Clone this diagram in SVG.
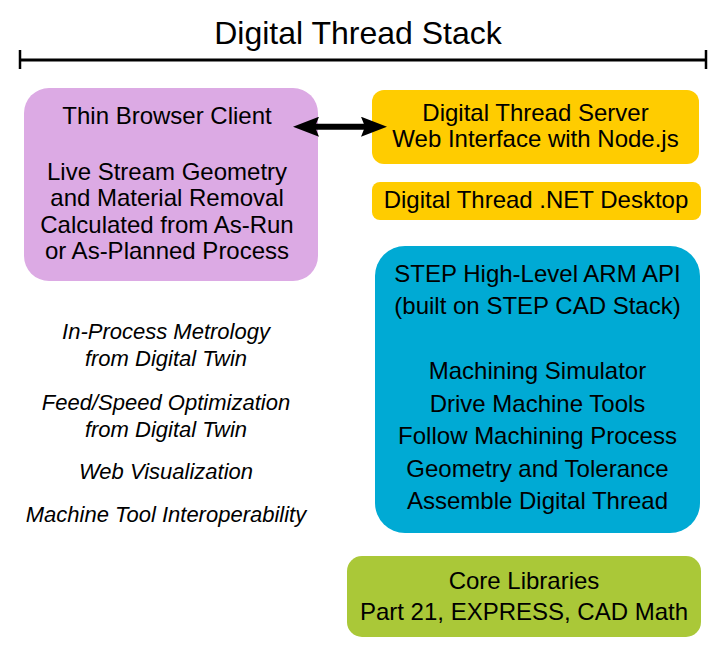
<svg xmlns="http://www.w3.org/2000/svg" width="721" height="658" viewBox="0 0 721 658">
<style>
text{font-family:"Liberation Sans",Arial,sans-serif;fill:#000;text-anchor:middle}
.t{font-size:24px}
.i{font-size:22px;font-style:italic}
.title{font-size:32px}
.purple{fill:#DCAAE4}
.orange{fill:#FFCC00}
.blue{fill:#00AAD4}
.green{fill:#AAC838}
</style>
<defs>
<marker id="ah" markerUnits="userSpaceOnUse" markerWidth="26" markerHeight="20" viewBox="0 0 26 20" refX="14" refY="10" orient="auto-start-reverse">
<path d="M0,0 L26,10 L0,20 L4,10 z" fill="#000"/>
</marker>
</defs>
<rect width="721" height="658" fill="#fff"/>
<g id="header">
<text class="title" x="358" y="44">Digital Thread Stack</text>
<line x1="20" y1="60" x2="706" y2="60" stroke="#000" stroke-width="3"/>
<line x1="20" y1="50" x2="20" y2="69" stroke="#000" stroke-width="2.5"/>
<line x1="706" y1="50" x2="706" y2="69" stroke="#000" stroke-width="2.5"/>
</g>
<g id="thin-client">
<rect class="purple" x="24" y="88" width="294" height="193" rx="25"/>
<text class="t" x="167" y="124">Thin Browser Client</text>
<text class="t" x="167" y="179.5">Live Stream Geometry</text>
<text class="t" x="167" y="206">and Material Removal</text>
<text class="t" x="167" y="232.5">Calculated from As-Run</text>
<text class="t" x="167" y="259">or As-Planned Process</text>
</g>
<g id="server">
<rect class="orange" x="372" y="90" width="327" height="74" rx="12"/>
<text class="t" x="535.5" y="121">Digital Thread Server</text>
<text class="t" x="535.5" y="146.5">Web Interface with Node.js</text>
</g>
<g id="desktop">
<rect class="orange" x="372" y="182" width="329" height="38" rx="8"/>
<text class="t" x="536" y="208">Digital Thread .NET Desktop</text>
</g>
<g id="step-api">
<rect class="blue" x="375" y="246" width="325" height="287" rx="30"/>
<text class="t" x="537.5" y="281.5">STEP High-Level ARM API</text>
<text class="t" x="537.5" y="314">(built on STEP CAD Stack)</text>
<text class="t" x="537.5" y="379">Machining Simulator</text>
<text class="t" x="537.5" y="411.5">Drive Machine Tools</text>
<text class="t" x="537.5" y="444">Follow Machining Process</text>
<text class="t" x="537.5" y="476.5">Geometry and Tolerance</text>
<text class="t" x="537.5" y="509">Assemble Digital Thread</text>
</g>
<g id="core">
<rect class="green" x="347" y="556" width="354" height="81" rx="15"/>
<text class="t" x="524" y="588.5">Core Libraries</text>
<text class="t" x="524" y="620">Part 21, EXPRESS, CAD Math</text>
</g>
<g id="applications">
<text class="i" x="166" y="339">In-Process Metrology</text>
<text class="i" x="166" y="366">from Digital Twin</text>
<text class="i" x="166" y="410">Feed/Speed Optimization</text>
<text class="i" x="166" y="437">from Digital Twin</text>
<text class="i" x="166" y="479">Web Visualization</text>
<text class="i" x="166" y="522">Machine Tool Interoperability</text>
</g>
<g id="connectors">
<line x1="305" y1="126.7" x2="375" y2="126.7" stroke="#000" stroke-width="6" marker-start="url(#ah)" marker-end="url(#ah)"/>
</g>
</svg>
